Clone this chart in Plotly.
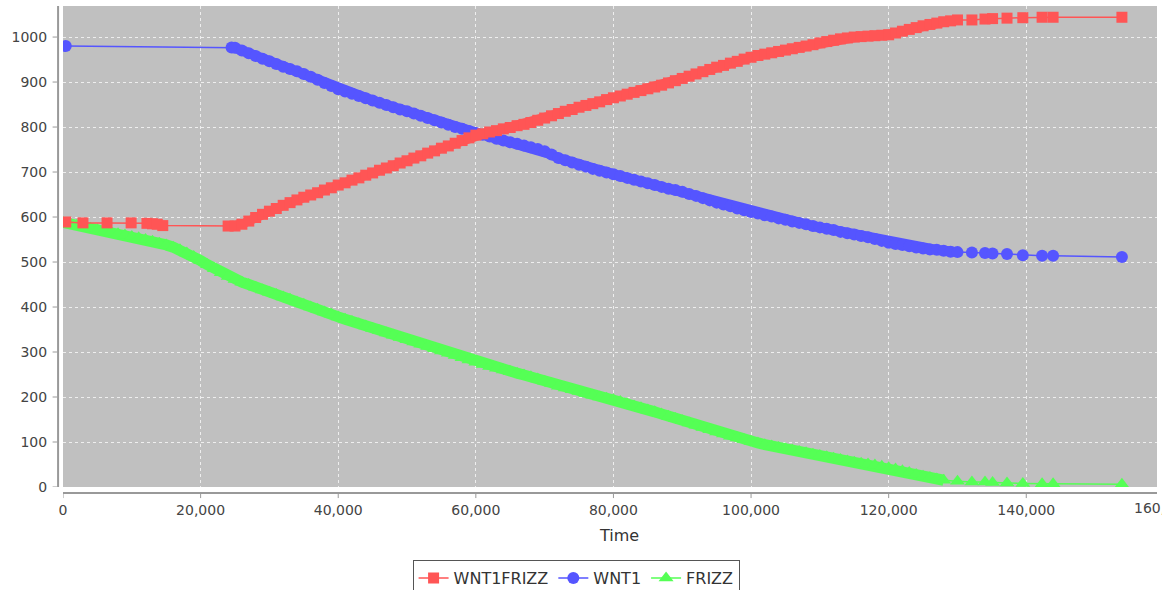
import plotly.graph_objects as go

# ---- simulation output: molecule counts over time ----
frizz_time = [
    0, 1000, 2000, 3000, 4000, 5000, 6000, 7000, 8000, 9000,
    10000, 11000, 12000, 13000, 14000, 15000, 16000, 17000, 18000, 19000,
    20000, 21000, 22000, 23000, 24000, 25000, 26000, 27000, 28000, 29000,
    30000, 31000, 32000, 33000, 34000, 35000, 36000, 37000, 38000, 39000,
    40000, 41000, 42000, 43000, 44000, 45000, 46000, 47000, 48000, 49000,
    50000, 51000, 52000, 53000, 54000, 55000, 56000, 57000, 58000, 59000,
    60000, 61000, 62000, 63000, 64000, 65000, 66000, 67000, 68000, 69000,
    70000, 71000, 72000, 73000, 74000, 75000, 76000, 77000, 78000, 79000,
    80000, 81000, 82000, 83000, 84000, 85000, 86000, 87000, 88000, 89000,
    90000, 91000, 92000, 93000, 94000, 95000, 96000, 97000, 98000, 99000,
    100000, 101000, 102000, 103000, 104000, 105000, 106000, 107000, 108000, 109000,
    110000, 111000, 112000, 113000, 114000, 115000, 116000, 117000, 118000, 119000,
    120000, 121000, 122000, 123000, 124000, 125000, 126000, 127000, 128000,
    130000, 132100, 134000, 135100, 137200, 139500, 142300, 143900, 153900,
]
frizz_count = [
    588, 585, 582, 579, 575, 572, 569, 566, 563, 560,
    557, 554, 550, 546, 542, 538, 533, 527, 520, 512,
    503, 494, 485, 476, 468, 461, 455, 450, 444, 438,
    433, 428, 422, 417, 411, 406, 400, 395, 389, 384,
    378, 373, 368, 363, 358, 352, 347, 342, 337, 332,
    327, 322, 317, 312, 307, 302, 297, 292, 287, 282,
    277, 272, 268, 264, 260, 256, 253, 249, 245, 240,
    235, 230, 224, 220, 216, 212, 208, 204, 200, 197,
    194, 190, 185, 180, 176, 171, 167, 162, 157, 152,
    147, 142, 137, 132, 127, 122, 118, 113, 109, 105,
    101, 98, 94, 91, 88, 85, 82, 79, 76, 73,
    70, 67, 64, 61, 58, 55, 53, 51, 49, 46,
    43, 40, 36, 32, 28, 24, 21, 18, 15,
    13, 11, 11, 10, 9, 8, 7, 7, 6,
]

wnt1_time = [
    400, 24500,
    25000, 26000, 27000, 28000, 29000,
    30000, 31000, 32000, 33000, 34000, 35000, 36000, 37000, 38000, 39000,
    40000, 41000, 42000, 43000, 44000, 45000, 46000, 47000, 48000, 49000,
    50000, 51000, 52000, 53000, 54000, 55000, 56000, 57000, 58000, 59000,
    60000, 61000, 62000, 63000, 64000, 65000, 66000, 67000, 68000, 69000,
    70000, 71000, 72000, 73000, 74000, 75000, 76000, 77000, 78000, 79000,
    80000, 81000, 82000, 83000, 84000, 85000, 86000, 87000, 88000, 89000,
    90000, 91000, 92000, 93000, 94000, 95000, 96000, 97000, 98000, 99000,
    100000, 101000, 102000, 103000, 104000, 105000, 106000, 107000, 108000, 109000,
    110000, 111000, 112000, 113000, 114000, 115000, 116000, 117000, 118000, 119000,
    120000, 121000, 122000, 123000, 124000, 125000, 126000, 127000, 128000, 129000,
    130000, 132100, 134000, 135100, 137200, 139500, 142300, 143900, 153900,
]
wnt1_count = [
    980, 977,
    976, 970, 964, 958, 952,
    946, 940, 934, 929, 924, 918, 912, 905, 898, 891,
    884, 879, 874, 869, 864, 859, 854, 849, 844, 839,
    835, 830, 825, 820, 815, 810, 805, 800, 796, 791,
    787, 783, 779, 774, 770, 766, 763, 759, 755, 751,
    746, 739, 731, 726, 721, 716, 712, 707, 703, 699,
    695, 691, 687, 683, 679, 675, 671, 667, 663, 660,
    656, 651, 647, 642, 637, 632, 628, 624, 619, 615,
    611, 608, 604, 601, 597, 594, 590, 587, 584, 580,
    577, 574, 571, 567, 564, 561, 558, 555, 551, 547,
    543, 540, 538, 535, 532, 530, 528, 527, 525, 523,
    522, 521, 520, 519, 518, 515, 514, 514, 511,
]

wnt1frizz_time = [
    400, 2900, 6400, 9900, 12200, 13000, 13700, 14500,
    24000, 25000, 26000, 27000, 28000, 29000,
    30000, 31000, 32000, 33000, 34000, 35000, 36000, 37000, 38000, 39000,
    40000, 41000, 42000, 43000, 44000, 45000, 46000, 47000, 48000, 49000,
    50000, 51000, 52000, 53000, 54000, 55000, 56000, 57000, 58000, 59000,
    60000, 61000, 62000, 63000, 64000, 65000, 66000, 67000, 68000, 69000,
    70000, 71000, 72000, 73000, 74000, 75000, 76000, 77000, 78000, 79000,
    80000, 81000, 82000, 83000, 84000, 85000, 86000, 87000, 88000, 89000,
    90000, 91000, 92000, 93000, 94000, 95000, 96000, 97000, 98000, 99000,
    100000, 101000, 102000, 103000, 104000, 105000, 106000, 107000, 108000, 109000,
    110000, 111000, 112000, 113000, 114000, 115000, 116000, 117000, 118000, 119000,
    120000, 121000, 122000, 123000, 124000, 125000, 126000, 127000, 128000, 129000,
    130000, 132100, 134000, 135100, 137200, 139500, 142300, 143900, 153900,
]
wnt1frizz_count = [
    589, 587, 587, 587, 586, 585, 584, 581,
    580, 580, 584, 591, 599, 606,
    613, 619, 626, 632, 638, 644, 649, 654, 660, 665,
    671, 676, 682, 687, 693, 698, 704, 709, 714, 720,
    725, 731, 736, 742, 747, 753, 758, 764, 770, 776,
    782, 785, 789, 792, 796, 799, 803, 806, 810, 815,
    820, 825, 830, 835, 839, 844, 848, 852, 856, 861,
    865, 869, 873, 877, 881, 885, 889, 893, 898, 903,
    908, 913, 918, 923, 928, 933, 937, 942, 946, 951,
    955, 959, 962, 965, 968, 971, 974, 977, 980, 983,
    987, 990, 993, 996, 998, 1000, 1001, 1002, 1003, 1004,
    1005, 1009, 1013, 1017, 1021, 1025, 1028, 1031, 1034, 1036,
    1038, 1038, 1040, 1041, 1042, 1043, 1044, 1044, 1044,
]

x_ticks = [0, 20000, 40000, 60000, 80000, 100000, 120000, 140000]
y_ticks = [0, 100, 200, 300, 400, 500, 600, 700, 800, 900, 1000]

RED = "#FF5555"
BLUE = "#5555FF"
GREEN = "#55FF55"
AXIS_GREY = "#999999"
TEXT = "#444444"
FONT = "DejaVu Sans"

# (name, times, counts, colour, symbol, marker size, slice of the densely sampled stretch)
series = [
    ("FRIZZ", frizz_time, frizz_count, GREEN, "triangle-up", 13, slice(0, 129)),
    ("WNT1", wnt1_time, wnt1_count, BLUE, "circle", 12, slice(2, 108)),
    ("WNT1FRIZZ", wnt1frizz_time, wnt1frizz_count, RED, "square", 11, slice(8, 115)),
]

fig = go.Figure()

# overlapping samples merge into a solid band; draw that band under each series
for name, t, c, col, sym, size, dense in series:
    fig.add_trace(go.Scatter(
        x=t[dense], y=c[dense], mode="lines", showlegend=False, hoverinfo="skip",
        line=dict(color=col, width=size - 2),
    ))
    # green first, red last so WNT1FRIZZ sits on top
    fig.add_trace(go.Scatter(
        x=t, y=c, name=name, mode="lines+markers",
        line=dict(color=col, width=1.5),
        marker=dict(symbol=sym, size=size, color=col),
    ))

# axis lines sit slightly apart from the plot area
shapes = [
    dict(type="line", xref="paper", yref="paper", x0=-0.0045, x1=-0.0045, y0=0, y1=1,
         line=dict(color=AXIS_GREY, width=2)),
    dict(type="line", xref="paper", yref="paper", x0=0, x1=1, y0=-0.0125, y1=-0.0125,
         line=dict(color=AXIS_GREY, width=2)),
]
for v in y_ticks:
    shapes.append(dict(type="line", xref="paper", yref="y", x0=-0.0095, x1=-0.0055,
                       y0=v, y1=v, line=dict(color=AXIS_GREY, width=1)))
for v in x_ticks:
    shapes.append(dict(type="line", xref="x", yref="paper", x0=v, x1=v,
                       y0=-0.0135, y1=-0.0230, line=dict(color=AXIS_GREY, width=1)))

fig.update_layout(
    width=1162, height=590,
    margin=dict(l=63, r=5, t=6, b=103, autoexpand=False),
    paper_bgcolor="white",
    plot_bgcolor="#C0C0C0",
    font=dict(family=FONT, size=14, color=TEXT),
    shapes=shapes,
    showlegend=True,
    legend=dict(
        orientation="h", traceorder="reversed",
        x=0.469, xanchor="center", y=-0.152, yanchor="top",
        bordercolor="#555555", borderwidth=1, bgcolor="white",
        font=dict(family=FONT, size=16, color="#333333"),
    ),
    annotations=[
        dict(text="Time", xref="paper", yref="paper", x=0.508, y=-0.1, xanchor="center",
             yanchor="middle", showarrow=False, font=dict(family=FONT, size=16, color="#333333")),
        dict(text="160,000", xref="paper", yref="paper", x=1.0055, y=-0.0437, xanchor="center",
             yanchor="middle", showarrow=False, font=dict(family=FONT, size=14, color=TEXT)),
    ],
)
fig.update_xaxes(
    range=[0, 159000], tickvals=x_ticks, tickformat=",d",
    showgrid=True, gridcolor="#EEEEEE", gridwidth=1, griddash="3px,3px",
    zeroline=False, showline=False,
    ticks="outside", ticklen=10, tickcolor="rgba(0,0,0,0)",
)
fig.update_yaxes(
    range=[0, 1069], tickvals=y_ticks,
    showgrid=True, gridcolor="#EEEEEE", gridwidth=1, griddash="3px,3px",
    zeroline=False, showline=False,
    ticks="outside", ticklen=12, tickcolor="rgba(0,0,0,0)",
)

fig.write_html("out.html")
